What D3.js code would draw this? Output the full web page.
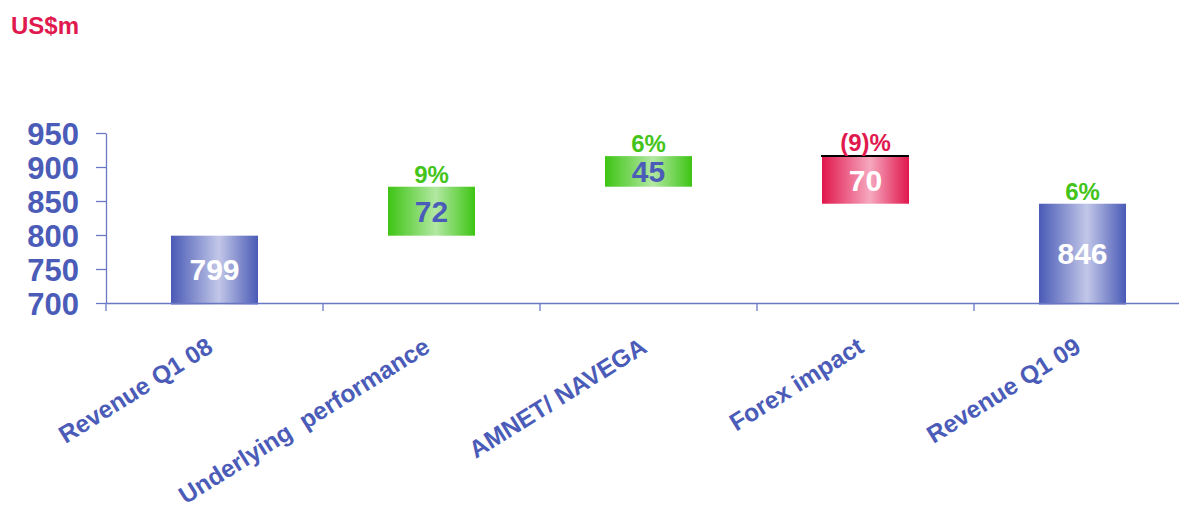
<!DOCTYPE html>
<html>
<head>
<meta charset="utf-8">
<script src="https://cdn.jsdelivr.net/npm/d3@7"></script>
<style>
  html, body { margin: 0; padding: 0; background: #fff; }
  svg { display: block; font-family: "Liberation Sans", Arial, sans-serif; }
</style>
</head>
<body>
<svg id="chart" width="1179" height="509"></svg>
<script>
const categories = ["Revenue Q1 08", "Underlying  performance", "AMNET/ NAVEGA", "Forex impact", "Revenue Q1 09"];
const values = [799, 72, 45, -70, 846];
const kinds = ["total", "up", "up", "down", "total"];
const pctLabels = ["", "9%", "6%", "(9)%", "6%"];
const yTicks = [700, 750, 800, 850, 900, 950];
const unitLabel = "US$m";

const blue = "#4b5cb8";
const green = "#44c41a";
const red = "#e0194f";

const svg = d3.select("#chart");
const left = 106, bandW = 217;

const x = d3.scaleBand().domain(categories).range([left, left + bandW * categories.length]).paddingInner(0).paddingOuter(0);
const y = d3.scaleLinear().domain([700, 950]).range([303, 133]);

// gradients
const defs = svg.append("defs");
function grad(id, dark, light) {
  const g = defs.append("linearGradient").attr("id", id).attr("x1", "0%").attr("x2", "100%").attr("y1", "0%").attr("y2", "0%");
  g.append("stop").attr("offset", "0%").attr("stop-color", dark);
  g.append("stop").attr("offset", "55%").attr("stop-color", light);
  g.append("stop").attr("offset", "100%").attr("stop-color", dark);
}
grad("gTotal", "#4a5ab6", "#c2c7e8");
grad("gUp", "#3ec414", "#b2e8a2");
grad("gDown", "#e0174c", "#f6a8bf");

// compute waterfall
let run = 0;
const bars = categories.map((c, i) => {
  let lo, hi;
  if (kinds[i] === "total") { lo = 700; hi = values[i]; run = values[i]; }
  else { const s = run; run = run + values[i]; lo = Math.min(s, run); hi = Math.max(s, run); }
  return { c, v: Math.abs(values[i]), kind: kinds[i], lo, hi, pct: pctLabels[i], i };
});

// title
svg.append("text").attr("x", 11).attr("y", 34).attr("fill", red)
  .attr("font-size", 24).attr("font-weight", "bold").text(unitLabel);

// y axis
const yAxis = d3.axisLeft(y).tickValues(yTicks).tickSize(10).tickSizeOuter(0).tickPadding(17).tickFormat(d3.format("d"));
const gy = svg.append("g").attr("transform", `translate(${left},0)`).call(yAxis);
gy.select(".domain").attr("stroke", "#6a78c4").attr("stroke-width", 1.3);
gy.selectAll(".tick line").attr("stroke", "#6a78c4").attr("stroke-width", 1.3);
gy.selectAll(".tick text").attr("fill", blue).attr("font-size", 31).attr("font-weight", "bold")
  .attr("font-family", "'Liberation Sans', Arial, sans-serif").attr("dy", "0.36em");

// bars
const barW = 87;
svg.append("g").selectAll("rect").data(bars).join("rect")
  .attr("x", d => x(d.c) + x.bandwidth() / 2 - barW / 2)
  .attr("width", barW)
  .attr("y", d => y(d.hi))
  .attr("height", d => y(d.lo) - y(d.hi) + (d.kind === "total" ? 1.5 : 0))
  .attr("fill", d => d.kind === "total" ? "url(#gTotal)" : d.kind === "up" ? "url(#gUp)" : "url(#gDown)");

// x axis
const xAxis = d3.axisBottom(x).tickSize(0).tickFormat("");
const gx = svg.append("g").attr("transform", `translate(0,303)`).call(xAxis);
gx.select(".domain").attr("stroke", "#6a78c4").attr("stroke-width", 1.3);
// category boundary ticks
const bounds = categories.map((c) => x(c));
svg.append("g").selectAll("line").data(bounds).join("line")
  .attr("x1", d => d).attr("x2", d => d).attr("y1", 303).attr("y2", 311)
  .attr("stroke", "#6a78c4").attr("stroke-width", 1.3);

// black line atop the down bar
svg.append("g").selectAll("line").data(bars.filter(d => d.kind === "down")).join("line")
  .attr("x1", d => x(d.c) + x.bandwidth() / 2 - barW / 2 - 1)
  .attr("x2", d => x(d.c) + x.bandwidth() / 2 + barW / 2)
  .attr("y1", d => y(d.hi)).attr("y2", d => y(d.hi))
  .attr("stroke", "#000").attr("stroke-width", 2);

// value labels
svg.append("g").selectAll("text").data(bars).join("text")
  .attr("x", d => x(d.c) + x.bandwidth() / 2)
  .attr("y", d => (y(d.hi) + y(d.lo)) / 2 + 11)
  .attr("text-anchor", "middle")
  .attr("font-size", 30).attr("font-weight", "bold")
  .attr("fill", d => d.kind === "up" ? blue : "#ffffff")
  .text(d => d.v);

// percentage labels
svg.append("g").selectAll("text").data(bars.filter(d => d.pct)).join("text")
  .attr("x", d => x(d.c) + x.bandwidth() / 2)
  .attr("y", d => y(d.hi) - (d.kind === "down" ? 5 : 4))
  .attr("text-anchor", "middle")
  .attr("font-size", 24).attr("font-weight", "bold")
  .attr("fill", d => d.kind === "down" ? red : green)
  .text(d => d.pct);

// category labels
svg.append("g").selectAll("text").data(categories).join("text")
  .attr("transform", d => `translate(${x(d) + x.bandwidth() / 2},351) rotate(-32)`)
  .attr("text-anchor", "end")
  .attr("font-size", 24.5).attr("font-weight", "bold")
  .attr("fill", blue)
  .style("white-space", "pre")
  .text(d => d);
</script>
</body>
</html>
